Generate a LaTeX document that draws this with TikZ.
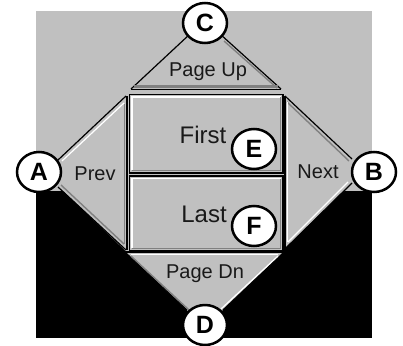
\documentclass[tikz,border=0pt]{standalone}
\usepackage{fontspec}
\setmainfont{Liberation Sans}
\usetikzlibrary{shapes.geometric}
\definecolor{winbg}{HTML}{C0C0C0}
\definecolor{windk}{HTML}{808080}
\tikzset{
  edgeblk/.style={draw=black,line width=1.2pt},
  edgewht/.style={draw=white,line width=1.2pt},
  edgedk/.style={draw=windk,line width=1.4pt},
  lbl/.style={font=\fontsize{20}{20}\selectfont,text=black!90,inner sep=0pt},
  biglbl/.style={font=\fontsize{24}{24}\selectfont,text=black!90,inner sep=0pt},
  badge/.style={draw=black,line width=2.5pt,fill=white,ellipse,minimum width=44pt,minimum height=40pt,inner sep=0pt,font=\fontsize{25}{25}\selectfont\bfseries}
}
\begin{document}
\begin{tikzpicture}[x=1pt,y=-1pt]
\useasboundingbox (0,0) rectangle (403,345);
% background
\fill[winbg] (36,11) rectangle (372,338);
\fill[black] (36,191) rectangle (372,338);
\fill[winbg] (40,186) -- (58,186) -- (205,327) -- (352,180) -- (372,180) -- (372,172) -- (36,172) -- cycle;
% Page Up triangle
\fill[winbg] (205,18) -- (281,89) -- (131,89) -- cycle;
\draw[edgeblk] (131,89) -- (190,34);
\draw[edgeblk] (220,34) -- (281,89);
\draw[edgedk] (224,41) -- (277,88);
\draw[windk,line width=2.5pt] (134,86.5) -- (278,86.5);
\draw[black,line width=1pt] (131,89.5) -- (281,89.5);
% Prev trapezoid
\fill[winbg] (46,172) -- (126,97) -- (126,248) -- cycle;
\draw[edgeblk] (58,160) -- (126,96);
\draw[edgewht] (62,161) -- (124,103);
\draw[edgeblk] (58,187) -- (126,250);
\draw[edgedk] (61,185) -- (124,244);
\draw[black,line width=1.2pt] (127,96) -- (127,250);
\draw[windk,line width=1pt] (124.5,104) -- (124.5,244);
% Next trapezoid
\fill[winbg] (285,97) -- (364,172) -- (285,248) -- cycle;
\draw[edgeblk] (285,96) -- (352,159);
\draw[edgedk] (287,102) -- (349,161);
\draw[edgeblk] (352,183) -- (285,249);
\draw[edgewht] (348,182) -- (288,242);
\draw[black,line width=1.2pt] (285,96) -- (285,250);
\draw[white,line width=1pt] (287.5,102) -- (287.5,242);
% Page Dn triangle
\fill[winbg] (126,253) -- (283,253) -- (205,327) -- cycle;
\draw[black,line width=1.2pt] (126,252) -- (283,252);
\draw[white,line width=1.2pt] (131,254.5) -- (278,254.5);
\draw[edgeblk] (126,253) -- (187,310);
\draw[edgedk] (131,256) -- (189,310);
\draw[edgeblk] (283,253) -- (223,310);
\draw[edgewht] (278,256) -- (221,309);
% First button
\draw[black,line width=1.5pt,fill=winbg] (129.5,94.5) rectangle (283,173);
\draw[white,line width=1.2pt] (132,170) -- (132,97) -- (281,97);
\draw[windk,line width=1.5pt] (132,170.5) -- (280.5,170.5) -- (280.5,97);
% Last button
\draw[black,line width=1.5pt,fill=winbg] (129.5,176) rectangle (283,251);
\draw[white,line width=1.2pt] (132,248) -- (132,178.5) -- (281,178.5);
\draw[windk,line width=1.5pt] (132,248.5) -- (280.5,248.5) -- (280.5,178.5);
% labels
\node[lbl] (pgup) at (208,72) {Page Up};
\node[lbl] (prev) at (95,174) {Prev};
\node[lbl] (next) at (318,172) {Next};
\node[lbl] (pgdn) at (205,274) {Page Dn};
\node[biglbl,anchor=base] (first) at (203,143) {First};
\node[biglbl,anchor=base] (last) at (204,222) {Last};
% markers
\node[badge] (A) at (39,172) {A};
\node[badge] (B) at (374,172) {B};
\node[badge] (C) at (205,23) {C};
\node[badge] (D) at (205,325) {D};
\node[badge] (E) at (254,149) {E};
\node[badge] (F) at (254,226) {F};
\end{tikzpicture}
\end{document}
